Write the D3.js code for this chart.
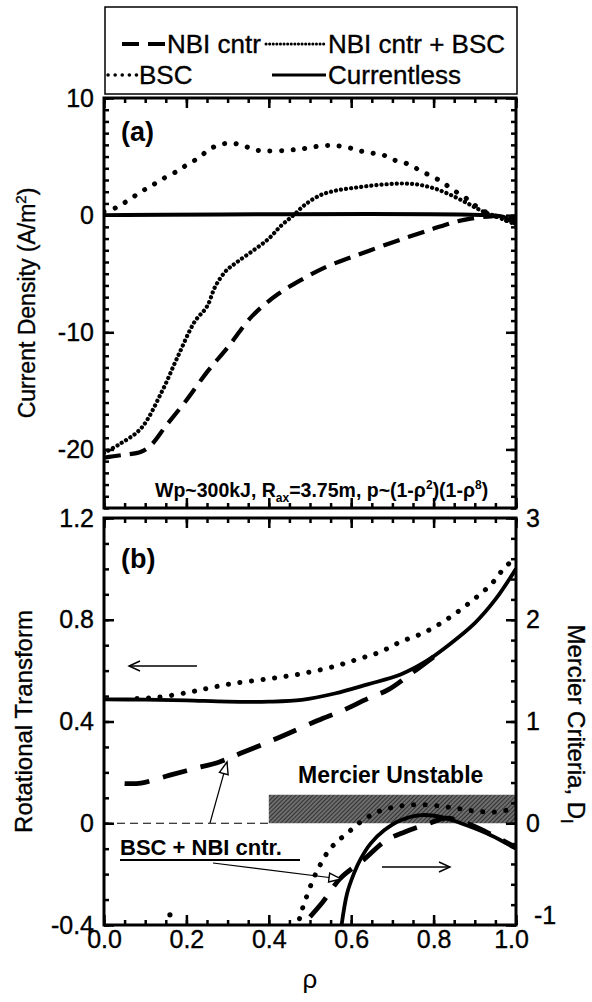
<!DOCTYPE html>
<html>
<head>
<meta charset="utf-8">
<script src="https://cdn.jsdelivr.net/npm/d3@7"></script>
<style>
  body { margin: 0; background: #fff; }
  svg { font-family: "Liberation Sans", Arial, sans-serif; }
  .tick text { font-size: 25px; fill: #000; }
  .heavy { stroke: #000; stroke-width: 0.35px; }
</style>
</head>
<body>
<svg width="592" height="1002"></svg>
<script>
// ---- panel (a): current density vs rho, [rho, A/m^2]
let jNbi = [[0, -20.7], [0.04, -20.5], [0.09, -20.2], [0.115, -19.6], [0.15, -18.0], [0.2, -15.8],
  [0.25, -13.4], [0.3, -11.3], [0.36, -8.6], [0.42, -6.8], [0.48, -5.5], [0.54, -4.4], [0.6, -3.6],
  [0.67, -2.7], [0.74, -1.85], [0.8, -1.15], [0.85, -0.6], [0.89, -0.3], [0.94, -0.1], [0.97, -0.1], [1.0, -0.4]];
let jNbiBsc = [[0, -20.3], [0.04, -19.5], [0.09, -18.2], [0.14, -15.1], [0.18, -12.0], [0.22, -9.1],
  [0.25, -7.8], [0.27, -6.1], [0.295, -4.8], [0.323, -4.0], [0.363, -3.0], [0.4, -2.0], [0.43, -0.9],
  [0.46, 0.0], [0.49, 0.95], [0.525, 1.7], [0.56, 2.08], [0.6, 2.3], [0.64, 2.48], [0.68, 2.62],
  [0.72, 2.7], [0.76, 2.62], [0.8, 2.3], [0.84, 1.75], [0.88, 1.05], [0.915, 0.4], [0.95, -0.1], [1.0, -0.8]];
let jBsc = [[0, 0.3], [0.03, 0.65], [0.06, 1.3], [0.09, 2.0], [0.115, 2.5], [0.14, 3.05], [0.175, 3.7],
  [0.2, 4.27], [0.23, 4.9], [0.255, 5.6], [0.28, 6.0], [0.31, 6.15], [0.34, 5.9], [0.37, 5.55], [0.4, 5.47],
  [0.45, 5.55], [0.48, 5.65], [0.51, 5.83], [0.54, 5.95], [0.565, 5.93], [0.595, 5.75], [0.62, 5.5],
  [0.65, 5.3], [0.68, 5.1], [0.705, 4.7], [0.735, 4.4], [0.76, 3.95], [0.79, 3.4], [0.82, 2.85],
  [0.845, 2.2], [0.875, 1.55], [0.9, 0.85], [0.93, 0.2], [0.96, -0.2], [1.0, -0.8]];
let jCurrentless = [[0, 0], [0.93, 0], [0.97, -0.15], [1.0, -0.8]];

// ---- panel (b): rotational transform (left axis)
let iotaBsc = [[0.08, 0.49], [0.13, 0.495], [0.2, 0.513], [0.25, 0.53], [0.315, 0.55], [0.4, 0.568],
  [0.48, 0.588], [0.56, 0.617], [0.62, 0.647], [0.67, 0.673], [0.72, 0.713], [0.78, 0.752],
  [0.84, 0.81], [0.895, 0.877], [0.94, 0.94], [0.97, 1.0], [1.0, 1.047]];
let iotaCurrentless = [[0, 0.487], [0.1, 0.486], [0.2, 0.483], [0.3, 0.478], [0.4, 0.478], [0.48, 0.485],
  [0.56, 0.51], [0.64, 0.546], [0.72, 0.585], [0.78, 0.635], [0.84, 0.705], [0.9, 0.787], [0.95, 0.88], [1.0, 1.0]];
let iotaNbi = [[0.05, 0.156], [0.09, 0.158], [0.16, 0.189], [0.22, 0.215], [0.28, 0.241], [0.33, 0.274],
  [0.4, 0.32], [0.45, 0.355], [0.52, 0.405], [0.58, 0.444], [0.64, 0.49], [0.69, 0.525], [0.745, 0.588], [0.8, 0.654]];

// ---- panel (b): Mercier criteria (right axis)
let dBsc = [[0.468, -1.05], [0.477, -0.9], [0.49, -0.74], [0.51, -0.53], [0.526, -0.4], [0.546, -0.265],
  [0.566, -0.18], [0.594, -0.085], [0.623, 0.013], [0.663, 0.11], [0.72, 0.17], [0.785, 0.18],
  [0.85, 0.15], [0.9, 0.12], [0.95, 0.11], [1.0, 0.15]];
let dCurrentless = [[0.575, -1.05], [0.59, -0.69], [0.607, -0.49], [0.623, -0.35], [0.647, -0.2],
  [0.68, -0.07], [0.72, 0.03], [0.77, 0.08], [0.82, 0.06], [0.88, -0.02], [0.94, -0.12], [1.0, -0.25]];
let dNbi = [[0.5, -0.92], [0.53, -0.78], [0.574, -0.54], [0.63, -0.36], [0.684, -0.17], [0.73, -0.085],
  [0.79, 0.0], [0.83, 0.05], [0.88, 0.0], [0.94, -0.11], [1.0, -0.24]];
let dBscStray = [[0.16, -0.9]];
let unstableBand = [0.4, 1.0, 0, 0.28]; // rho from, rho to, D from, D to

// ---- ticks
let xMajor = [0, 0.2, 0.4, 0.6, 0.8, 1.0];
let xMinor = d3.range(0, 1.001, 0.05);
let jMajor = [10, 0, -10, -20];
let jMinor = d3.range(-25, 10.5, 1);
let iotaMajor = [-0.4, 0, 0.4, 0.8, 1.2];
let iotaMinor = d3.range(-0.4, 1.25, 0.1);
let dMajor = [-1, 0, 1, 2, 3];
let dMinor = d3.range(-1, 3.05, 0.2);

let svg = d3.select('svg');

let x = d3.scaleLinear().domain([0, 1]).range([104, 516]);
let yA = d3.scaleLinear().domain([-25, 10]).range([508, 98]);
let yB = d3.scaleLinear().domain([-0.4, 1.2]).range([925, 518]);
let yR = d3.scaleLinear().domain([-1, 3]).range([925, 518]);

let defs = svg.append('defs');
defs.append('clipPath').attr('id', 'clipA').append('rect')
  .attr('x', x(0)).attr('y', yA(10)).attr('width', x(1) - x(0)).attr('height', yA(-25) - yA(10));
defs.append('clipPath').attr('id', 'clipB').append('rect')
  .attr('x', x(0)).attr('y', yB(1.2)).attr('width', x(1) - x(0)).attr('height', yB(-0.4) - yB(1.2));

let hatch = defs.append('pattern').attr('id', 'hatch')
  .attr('patternUnits', 'userSpaceOnUse').attr('width', 3).attr('height', 3)
  .attr('patternTransform', 'rotate(45)');
hatch.append('rect').attr('width', 3).attr('height', 3).attr('fill', '#6e6e6e');
hatch.append('line').attr('x1', 0).attr('y1', 0).attr('x2', 0).attr('y2', 3)
  .attr('stroke', '#111').attr('stroke-width', 1.3);

defs.append('marker').attr('id', 'openHead').attr('viewBox', '-12 -6 14 12')
  .attr('markerWidth', 14).attr('markerHeight', 12).attr('refX', 0).attr('refY', 0)
  .attr('orient', 'auto').attr('markerUnits', 'userSpaceOnUse')
  .append('path').attr('d', 'M-11,-5 L0,0 L-11,5').attr('fill', 'none')
  .attr('stroke', '#000').attr('stroke-width', 1.4);
defs.append('marker').attr('id', 'triHead').attr('viewBox', '-13 -6 15 12')
  .attr('markerWidth', 15).attr('markerHeight', 12).attr('refX', 0).attr('refY', 0)
  .attr('orient', 'auto').attr('markerUnits', 'userSpaceOnUse')
  .append('path').attr('d', 'M-12,-4.5 L0,0 L-12,4.5 Z').attr('fill', '#fff')
  .attr('stroke', '#000').attr('stroke-width', 1.4);

// series styles
let styles = {
  nbiA: { w: 4.2, dash: '17,9', cap: 'butt' },
  nbiB: { w: 4.8, dash: '25,14', cap: 'butt' },
  dense: { w: 4.2, dash: '0.1,5', cap: 'round' },
  dots: { w: 5, dash: '0.1,11.5', cap: 'round' },
  solid: { w: 3.8, dash: null, cap: 'butt' }
};

function drawLine(g, data, yScale, st) {
  let line = d3.line()
    .x(d => x(d[0]))
    .y(d => yScale(d[1]))
    .curve(d3.curveCatmullRom.alpha(0.5));
  g.append('path')
    .datum(data)
    .attr('d', line)
    .attr('fill', 'none')
    .attr('stroke', '#000')
    .attr('stroke-width', st.w)
    .attr('stroke-linecap', st.cap)
    .attr('stroke-dasharray', st.dash);
}

function addTicks(axis, transform, values, size, fmt) {
  let g = svg.append('g')
    .attr('transform', transform)
    .call(axis.tickValues(values).tickSize(size).tickPadding(fmt ? 10 : 0)
      .tickFormat(fmt || (() => '')));
  g.select('.domain').remove();
  g.selectAll('.tick line').attr('stroke', '#000').attr('stroke-width', 2.5);
  g.selectAll('.tick text').attr('class', 'heavy');
  return g;
}

// ---------- panel (a)
let gA = svg.append('g').attr('clip-path', 'url(#clipA)');
drawLine(gA, jCurrentless, yA, styles.solid);
drawLine(gA, jBsc, yA, styles.dots);
drawLine(gA, jNbiBsc, yA, styles.dense);
drawLine(gA, jNbi, yA, styles.nbiA);

addTicks(d3.axisLeft(yA), `translate(${x(0)},0)`, jMinor, -5);
addTicks(d3.axisLeft(yA), `translate(${x(0)},0)`, jMajor, -10, d => String(d));
addTicks(d3.axisRight(yA), `translate(${x(1)},0)`, jMinor, -5);
addTicks(d3.axisRight(yA), `translate(${x(1)},0)`, jMajor, -10);
addTicks(d3.axisTop(x), `translate(0,${yA(10)})`, xMinor, -5);
addTicks(d3.axisTop(x), `translate(0,${yA(10)})`, xMajor, -10);
addTicks(d3.axisBottom(x), `translate(0,${yA(-25)})`, xMinor, -5);
addTicks(d3.axisBottom(x), `translate(0,${yA(-25)})`, xMajor, -10);

svg.append('rect')
  .attr('x', x(0)).attr('y', yA(10))
  .attr('width', x(1) - x(0)).attr('height', yA(-25) - yA(10))
  .attr('fill', 'none').attr('stroke', '#000').attr('stroke-width', 3);

svg.append('text').text('(a)')
  .attr('x', 121).attr('y', 141)
  .attr('font-size', 27).attr('font-weight', 'bold');

let note = svg.append('text')
  .attr('x', 155).attr('y', 497)
  .attr('font-size', 19.5).attr('font-weight', 'bold');
note.append('tspan').text('Wp~300kJ, R');
note.append('tspan').text('ax').attr('font-size', 12).attr('dy', 5);
note.append('tspan').text('=3.75m, p~(1-ρ').attr('dy', -5);
note.append('tspan').text('2').attr('font-size', 12).attr('dy', -8);
note.append('tspan').text(')(1-ρ').attr('dy', 8);
note.append('tspan').text('8').attr('font-size', 12).attr('dy', -8);
note.append('tspan').text(')').attr('dy', 8);

svg.append('text')
  .attr('class', 'heavy')
  .attr('transform', `translate(35,${(yA(10) + yA(-25)) / 2}) rotate(-90)`)
  .attr('text-anchor', 'middle').attr('font-size', 23)
  .html('Current Density (A/m<tspan font-size="15" dy="-9">2</tspan><tspan dy="9">)</tspan>');

// ---------- panel (b)
let gB = svg.append('g').attr('clip-path', 'url(#clipB)');

gB.append('line')
  .attr('x1', x(0)).attr('x2', x(unstableBand[0]))
  .attr('y1', yR(0)).attr('y2', yR(0))
  .attr('stroke', '#000').attr('stroke-width', 1.2).attr('stroke-dasharray', '8,5');

gB.append('rect')
  .attr('x', x(unstableBand[0])).attr('y', yR(unstableBand[3]))
  .attr('width', x(unstableBand[1]) - x(unstableBand[0]))
  .attr('height', yR(unstableBand[2]) - yR(unstableBand[3]))
  .attr('fill', 'url(#hatch)');

drawLine(gB, iotaCurrentless, yB, styles.solid);
drawLine(gB, iotaBsc, yB, styles.dots);
drawLine(gB, iotaNbi, yB, styles.nbiB);
drawLine(gB, dCurrentless, yR, styles.solid);
drawLine(gB, dBsc, yR, styles.dots);
drawLine(gB, dNbi, yR, styles.nbiB);

gB.selectAll('circle.stray')
  .data(dBscStray)
  .enter()
  .append('circle')
  .attr('class', 'stray')
  .attr('cx', d => x(d[0]))
  .attr('cy', d => yR(d[1]))
  .attr('r', 2.6);

addTicks(d3.axisLeft(yB), `translate(${x(0)},0)`, iotaMinor, -5);
addTicks(d3.axisLeft(yB), `translate(${x(0)},0)`, iotaMajor, -10, d => String(d));
addTicks(d3.axisRight(yR), `translate(${x(1)},0)`, dMinor, -5);
addTicks(d3.axisRight(yR), `translate(${x(1)},0)`, dMajor, -10, d => String(d))
  .selectAll('.tick text')
  .filter(d => d === -1)
  .attr('x', 18).attr('y', -10);
addTicks(d3.axisTop(x), `translate(0,${yB(1.2)})`, xMinor, -5);
addTicks(d3.axisTop(x), `translate(0,${yB(1.2)})`, xMajor, -10);
addTicks(d3.axisBottom(x), `translate(0,${yB(-0.4)})`, xMinor, -5);
addTicks(d3.axisBottom(x), `translate(0,${yB(-0.4)})`, xMajor, -10, d3.format('.1f'))
  .selectAll('.tick text').attr('dy', '0.71em').attr('y', 5)
  .filter(d => d === 1).attr('x', -5);

svg.append('rect')
  .attr('x', x(0)).attr('y', yB(1.2))
  .attr('width', x(1) - x(0)).attr('height', yB(-0.4) - yB(1.2))
  .attr('fill', 'none').attr('stroke', '#000').attr('stroke-width', 3);

svg.append('text').text('(b)')
  .attr('x', 121).attr('y', 568)
  .attr('font-size', 27).attr('font-weight', 'bold');

svg.append('text').text('Mercier Unstable')
  .attr('x', 298).attr('y', 783)
  .attr('font-size', 23).attr('font-weight', 'bold');

// direction arrows
svg.append('line')
  .attr('x1', 197).attr('y1', 666).attr('x2', 129).attr('y2', 666)
  .attr('stroke', '#000').attr('stroke-width', 1.4).attr('marker-end', 'url(#openHead)');
svg.append('line')
  .attr('x1', 382).attr('y1', 867).attr('x2', 450).attr('y2', 867)
  .attr('stroke', '#000').attr('stroke-width', 1.4).attr('marker-end', 'url(#openHead)');

// BSC + NBI cntr. label with pointers
svg.append('text').text('BSC + NBI cntr.')
  .attr('x', 120).attr('y', 855)
  .attr('font-size', 22).attr('font-weight', 'bold');
svg.append('line')
  .attr('x1', 120).attr('x2', 300).attr('y1', 860).attr('y2', 860)
  .attr('stroke', '#000').attr('stroke-width', 2);
svg.append('line')
  .attr('x1', 210).attr('y1', 823).attr('x2', 227).attr('y2', 762)
  .attr('stroke', '#000').attr('stroke-width', 1.2).attr('marker-end', 'url(#triHead)');
svg.append('line')
  .attr('x1', 213).attr('y1', 863).attr('x2', 341).attr('y2', 879)
  .attr('stroke', '#000').attr('stroke-width', 1.2).attr('marker-end', 'url(#triHead)');

svg.append('text')
  .attr('class', 'heavy')
  .attr('transform', `translate(32,${(yB(1.2) + yB(-0.4)) / 2}) rotate(-90)`)
  .attr('text-anchor', 'middle').attr('font-size', 24)
  .text('Rotational Transform');

svg.append('text')
  .attr('class', 'heavy')
  .attr('transform', `translate(568,724) rotate(90)`)
  .attr('text-anchor', 'middle').attr('font-size', 24)
  .html('Mercier Criteria, D<tspan font-size="16" dy="7">I</tspan>');

svg.append('text').text('ρ')
  .attr('x', (x(0) + x(1)) / 2).attr('y', 988)
  .attr('text-anchor', 'middle').attr('font-size', 26);

// ---------- legend
let legend = svg.append('g');
legend.append('rect')
  .attr('x', 105).attr('y', 7).attr('width', 412).attr('height', 87)
  .attr('fill', 'none').attr('stroke', '#000').attr('stroke-width', 1.5);

let legendItems = [
  { label: 'NBI cntr', st: styles.nbiA, x1: 122, x2: 165, row: 0 },
  { label: 'NBI cntr + BSC', st: { w: 3, dash: '0.1,3.5', cap: 'round' }, x1: 266, x2: 326, row: 0 },
  { label: 'BSC', st: { w: 3.5, dash: '0.1,7', cap: 'round' }, x1: 108, x2: 137, row: 1 },
  { label: 'Currentless', st: { w: 3, dash: null, cap: 'butt' }, x1: 272, x2: 326, row: 1 }
];
legendItems.forEach(it => {
  let yy = 44 + it.row * 31;
  legend.append('line')
    .attr('x1', it.x1).attr('x2', it.x2).attr('y1', yy).attr('y2', yy)
    .attr('stroke', '#000').attr('stroke-width', it.st.w)
    .attr('stroke-linecap', it.st.cap).attr('stroke-dasharray', it.st.dash);
  legend.append('text').text(it.label)
    .attr('class', 'heavy')
    .attr('x', it.x2 + 2).attr('y', yy + 9)
    .attr('font-size', 26);
});
</script>
</body>
</html>
